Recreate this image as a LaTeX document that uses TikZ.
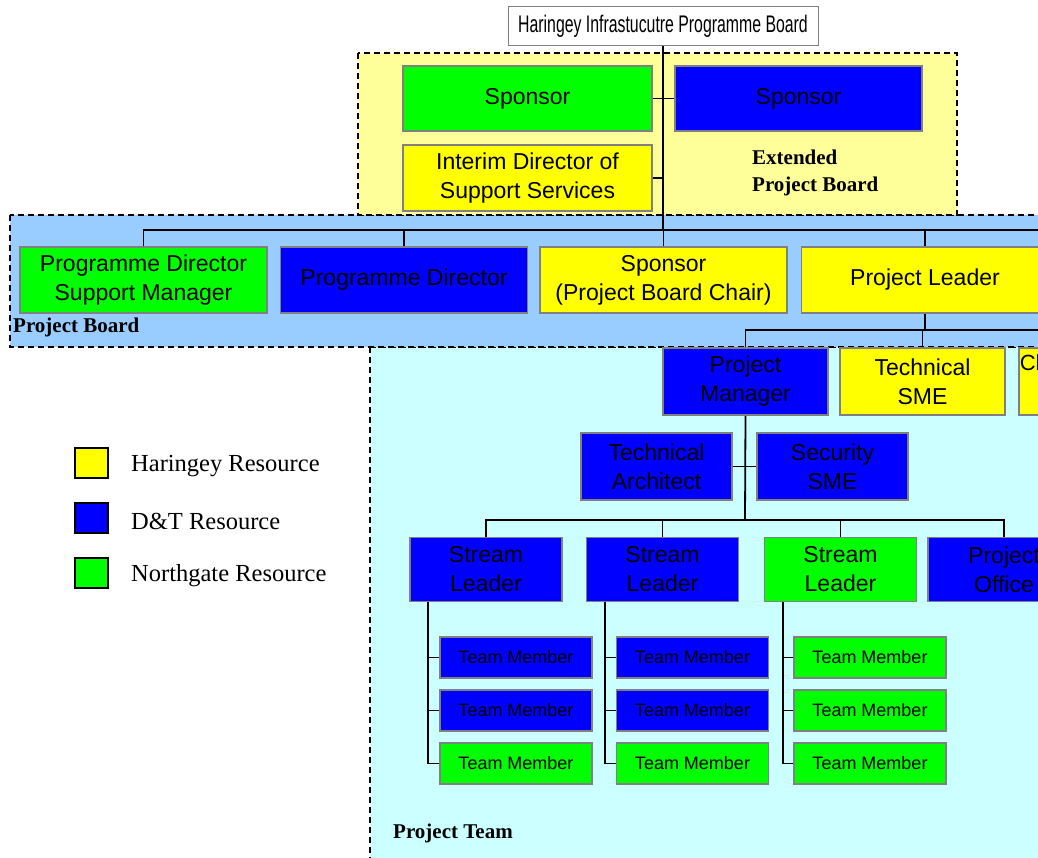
\documentclass[tikz,border=0pt]{standalone}
\usepackage{fontspec}
\setmainfont{Liberation Serif}
\setsansfont{Liberation Sans}
\definecolor{hgreen}{HTML}{00FF00}
\definecolor{hblue}{HTML}{0000FF}
\definecolor{hyellow}{HTML}{FFFF00}
\definecolor{boxgray}{HTML}{808080}
\definecolor{extfill}{HTML}{FFFF99}
\definecolor{pbfill}{HTML}{99CCFF}
\definecolor{ptfill}{HTML}{CCFFFF}
\begin{document}
\begin{tikzpicture}[x=1pt,y=-1pt,
	orgbox/.style={draw=boxgray,line width=1.6pt,inner sep=1pt,align=center,font=\sffamily\fontsize{23}{29}\selectfont},
	boardbox/.style={orgbox,minimum width=247pt,minimum height=66pt},
	rolebox/.style={orgbox,minimum width=165pt,minimum height=67pt},
	streambox/.style={orgbox,minimum width=152pt,minimum height=64pt},
	memberbox/.style={orgbox,minimum width=152pt,minimum height=41pt,font=\sffamily\fontsize{18}{20}\selectfont},
	region/.style={draw=black,line width=1.3pt,dash pattern=on 6pt off 4pt},
	grouplabel/.style={anchor=west,inner sep=0,align=left,font=\bfseries\fontsize{21}{27}\selectfont},
	keybox/.style={draw=black,line width=1.5pt,minimum width=33pt,minimum height=30pt,inner sep=0},
	keytext/.style={anchor=west,inner sep=0,font=\fontsize{24.5}{26}\selectfont},
	link/.style={draw=black,line width=1.8pt}]
	\path[use as bounding box,clip] (0,0) rectangle (1038,857);
	\fill[white] (0,0) rectangle (1038,857);
	\draw[region,fill=ptfill] (370,347) rectangle (1060,880);
	\draw[region,fill=pbfill] (10,215) rectangle (1060,347);
	\draw[region,fill=extfill] (358,53) rectangle (957,215);
	\node[draw=boxgray,line width=1pt,fill=white,minimum width=310pt,minimum height=39pt,inner sep=0] (title) at (663,26) {\scalebox{0.66}[1]{\sffamily\fontsize{24}{24}\selectfont Haringey Infrastucutre Programme Board}};
	\node[boardbox,fill=hgreen,minimum width=249pt,minimum height=65pt] (spgreen) at (527.5,98.5) {Sponsor};
	\node[boardbox,fill=hblue,minimum height=65pt] (spblue) at (798.5,98.5) {Sponsor};
	\node[boardbox,fill=hyellow,minimum width=249pt] (interim) at (527.5,178) {Interim Director of\\Support Services};
	\node[grouplabel] (extlabel) at (752,173) {Extended\\Project Board};
	\node[boardbox,fill=hgreen] (pdsm) at (143.5,280) {Programme Director\\Support Manager};
	\node[boardbox,fill=hblue] (pd) at (404,280) {Programme Director};
	\node[boardbox,fill=hyellow] (spchair) at (663.5,280) {Sponsor\\(Project Board Chair)};
	\node[boardbox,fill=hyellow] (pl) at (925,280) {Project Leader};
	\node[grouplabel] (pblabel) at (13,327) {Project Board};
	\node[rolebox,fill=hblue] (pm) at (745.5,381.5) {Project\\Manager};
	\node[rolebox,fill=hyellow] (tsme) at (922.5,381.5) {Technical\\SME};
	\node[rolebox,fill=hyellow,text width=163pt,align=left,inner xsep=0.3pt,anchor=west,font=\sffamily\fontsize{22}{29}\selectfont] (cl) at (1018,381.5) {Cl\\\strut};
	\node[rolebox,fill=hblue,minimum width=151pt] (ta) at (656.5,466.5) {Technical\\Architect};
	\node[rolebox,fill=hblue,minimum width=151pt] (ssme) at (832.5,466.5) {Security\\SME};
	\node[streambox,fill=hblue] (sl1) at (486,569.5) {Stream\\Leader};
	\node[streambox,fill=hblue] (sl2) at (662.5,569.5) {Stream\\Leader};
	\node[streambox,fill=hgreen] (sl3) at (840.5,569.5) {Stream\\Leader};
	\node[streambox,fill=hblue] (po) at (1004,569.5) {Project\\Office};
	\node[memberbox,fill=hblue] (tm11) at (516,657.5) {Team Member};
	\node[memberbox,fill=hblue] (tm12) at (516,710.5) {Team Member};
	\node[memberbox,fill=hgreen] (tm13) at (516,763.5) {Team Member};
	\node[memberbox,fill=hblue] (tm21) at (692.5,657.5) {Team Member};
	\node[memberbox,fill=hblue] (tm22) at (692.5,710.5) {Team Member};
	\node[memberbox,fill=hgreen] (tm23) at (692.5,763.5) {Team Member};
	\node[memberbox,fill=hgreen] (tm31) at (870,657.5) {Team Member};
	\node[memberbox,fill=hgreen] (tm32) at (870,710.5) {Team Member};
	\node[memberbox,fill=hgreen] (tm33) at (870,763.5) {Team Member};
	\node[grouplabel] (ptlabel) at (393,833) {Project Team};
	\node[keybox,fill=hyellow] (keyh) at (91.5,463) {};
	\node[keybox,fill=hblue] (keyd) at (91.5,518) {};
	\node[keybox,fill=hgreen] (keyn) at (91.5,573) {};
	\node[keytext] (keyhtext) at (131,466) {Haringey Resource};
	\node[keytext] (keydtext) at (131,521) {D\&T Resource};
	\node[keytext] (keyntext) at (131,576) {Northgate Resource};
	\coordinate (pbbus) at (663,230);
	\coordinate (pbend) at (1060,230);
	\coordinate (plend) at (1200,330);
	\coordinate (slbus) at (745,520);
	\draw[link] (title.south) -- (pbbus);
	\draw[link] (spgreen.east) -- (spblue.west);
	\draw[link] (interim.east) -- (interim.east -| pbbus);
	\draw[link] (pdsm.north) |- (pbend);
	\foreach \n in {pd,spchair,pl}
		\draw[link] (\n.north) -- (\n.north |- pbbus);
	\draw[link] (pm.north) |- (plend);
	\draw[link] (pl.south) -- (pl.south |- plend);
	\draw[link] (tsme.north) -- (tsme.north |- plend);
	\draw[link] ([xshift=82pt]cl.north west) -- ([xshift=82pt]cl.north west |- plend);
	\draw[link] (pm.south) -- (slbus);
	\draw[link] (ta.east) -- (ssme.west);
	\draw[link] (sl1.north) |- (slbus) -| (po.north);
	\foreach \n in {sl2,sl3}
		\draw[link] (\n.north) -- (\n.north |- slbus);
	\foreach \c in {1,2,3} {
		\coordinate (st\c) at ([xshift=19pt]sl\c.south west);
		\draw[link] (st\c) |- (tm\c3.west);
		\foreach \r in {1,2}
			\draw[link] (tm\c\r.west) -- (tm\c\r.west -| st\c);
	}
\end{tikzpicture}
\end{document}
